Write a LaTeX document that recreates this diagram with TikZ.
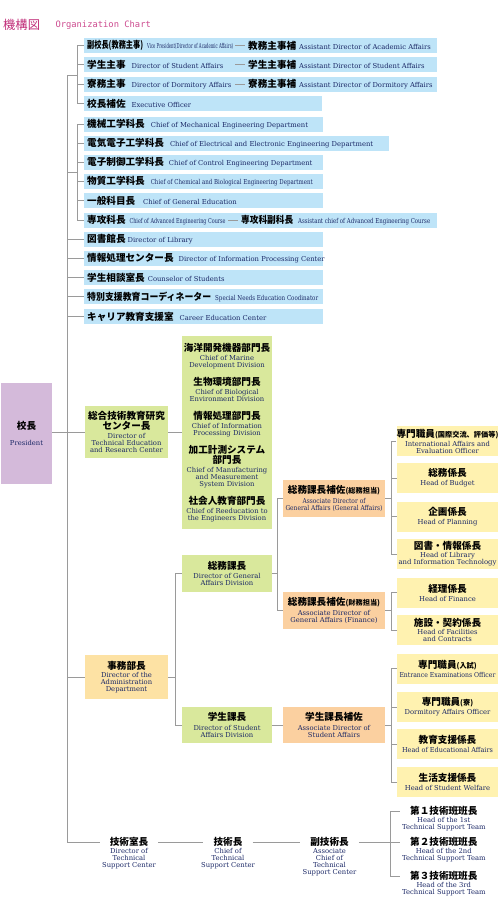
\documentclass[tikz,border=0pt]{standalone}
\usepackage{fontspec}
\usepackage{graphicx}
\setmainfont{DejaVu Serif}
\newfontfamily\jpfont{Noto Sans CJK JP}
\newfontfamily\monofont{DejaVu Sans Mono}
\usetikzlibrary{positioning}

\definecolor{barblue}{HTML}{BEE4F8}
\definecolor{presfill}{HTML}{D4BADA}
\definecolor{grnfill}{HTML}{D9E89C}
\definecolor{admfill}{HTML}{FDE2A4}
\definecolor{salfill}{HTML}{FBD0A0}
\definecolor{ylwfill}{HTML}{FFF2B0}
\definecolor{engtext}{HTML}{1B2866}
\definecolor{linegray}{HTML}{9A9A9A}
\definecolor{titlered}{HTML}{C02C78}
\definecolor{titlepink}{HTML}{CC4A8E}

\newcommand{\J}[1]{{\color{black}\jpfont\bfseries\fontsize{9.6}{11}\selectfont #1}}
\newcommand{\E}[1]{{\color{engtext}\fontsize{6.8}{7}\selectfont #1}}
\newcommand{\Js}[1]{{\fontsize{7.2}{8}\selectfont #1}}
\newcommand{\fitw}[2]{\resizebox{#1}{\height}{#2}}
\lineskiplimit=-20pt

\tikzset{
    link/.style    = {draw=linegray, line width=0.8pt},
    bar/.style     = {rectangle, fill=barblue, anchor=west, minimum height=15pt, inner sep=0pt},
    barlbl/.style  = {anchor=west, inner xsep=3pt, inner ysep=0pt},
    orgbox/.style  = {rectangle, align=center, inner sep=0pt, text=engtext, font=\fontsize{6.8}{7}\selectfont},
    presbox/.style = {orgbox, fill=presfill},
    grnbox/.style  = {orgbox, fill=grnfill},
    admbox/.style  = {orgbox, fill=admfill},
    salbox/.style  = {orgbox, fill=salfill, minimum width=102pt, minimum height=37pt},
    ylwbox/.style  = {orgbox, fill=ylwfill, minimum width=101pt, minimum height=30pt},
    plain/.style   = {align=center, inner xsep=10pt, inner ysep=0pt},
    plaineng/.style = {align=center, inner sep=0pt, text=engtext, font=\fontsize{6.8}{7}\selectfont}
}

\begin{document}
\begin{tikzpicture}[x=1pt, y=-1pt]
    \useasboundingbox (0,0) rectangle (500,916);

    % Title
    \node[anchor=west, inner sep=0pt, text=titlered, font=\jpfont\fontsize{12.3}{14}\selectfont] (ttl) at (3,25) {機構図};
    \node[right=15pt of ttl, inner sep=0pt, text=titlepink, font=\monofont\fontsize{8.8}{10}\selectfont] (ttlE) {Organization Chart};

    % Main trunk
    \coordinate (ttop) at (67,75);
    \coordinate (tbot) at (67,842);
    \draw[link] (ttop) -- (tbot);

    % Staff bars, first group
    \node[bar, minimum width=353pt] (vp) at (84,45.5) {};
    \node[barlbl] (vpL) at (vp.west) {\J{\fitw{56pt}{副校長(教務主事)}}\hspace{4pt}\E{\fitw{86pt}{Vice President(Director of Academic Affairs)}}};
    \node[barlbl] (vpR) at (245,45.5) {\J{教務主事補}\hspace{3pt}\E{Assistant Director of Academic Affairs}};
    \node[bar, minimum width=353pt] (sa) at (84,64.5) {};
    \node[barlbl] (saL) at (sa.west) {\J{学生主事}\hspace{6pt}\E{Director of Student Affairs}};
    \node[barlbl] (saR) at (245,64.5) {\J{学生主事補}\hspace{3pt}\E{Assistant Director of Student Affairs}};
    \node[bar, minimum width=353pt] (da) at (84,84.5) {};
    \node[barlbl] (daL) at (da.west) {\J{寮務主事}\hspace{6pt}\E{Director of Dormitory Affairs}};
    \node[barlbl] (daR) at (245,84.5) {\J{寮務主事補}\hspace{3pt}\E{Assistant Director of Dormitory Affairs}};
    \node[bar, minimum width=238pt] (eo) at (84,103.5) {};
    \node[barlbl] (eoL) at (eo.west) {\J{校長補佐}\hspace{6pt}\E{Executive Officer}};
    \foreach \r in {vpR,saR,daR}
        \draw[link] ([xshift=-10pt]\r.west) -- (\r.west);
    \coordinate (g1) at (77,75);
    \draw[link] (ttop) -- (g1);
    \foreach \b in {vp,sa,da,eo}
        \draw[link] (g1) |- (\b.west);

    % Department bars, second group
    \node[bar, minimum width=239pt] (me) at (84,124) {};
    \node[barlbl] (meL) at (me.west) {\J{機械工学科長}\hspace{6pt}\E{Chief of Mechanical Engineering Department}};
    \node[bar, minimum width=305pt] (ee) at (84,143.5) {};
    \node[barlbl] (eeL) at (ee.west) {\J{電気電子工学科長}\hspace{6pt}\E{Chief of Electrical and Electronic Engineering Department}};
    \node[bar, minimum width=239pt] (ce) at (84,162.5) {};
    \node[barlbl] (ceL) at (ce.west) {\J{電子制御工学科長}\hspace{5pt}\E{Chief of Control Engineering Department}};
    \node[bar, minimum width=239pt] (cb) at (84,181.5) {};
    \node[barlbl] (cbL) at (cb.west) {\J{物質工学科長}\hspace{6pt}\E{\fitw{162pt}{Chief of Chemical and Biological Engineering Department}}};
    \node[bar, minimum width=239pt] (ge) at (84,200.5) {};
    \node[barlbl] (geL) at (ge.west) {\J{一般科目長}\hspace{8pt}\E{Chief of General Education}};
    \node[bar, minimum width=353pt] (ae) at (84,220) {};
    \node[barlbl] (aeL) at (ae.west) {\J{専攻科長}\hspace{4pt}\E{\fitw{96pt}{Chief of Advanced Engineering Course}}};
    \node[barlbl] (aeR) at (238,220) {\J{\fitw{52pt}{専攻科副科長}}\hspace{5pt}\E{\fitw{132pt}{Assistant chief of Advanced Engineering Course}}};
    \draw[link] ([xshift=-10pt]aeR.west) -- (aeR.west);
    \coordinate (g2) at (77,172);
    \draw[link] (g2 -| ttop) -- (g2);
    \foreach \b in {me,ee,ce,cb,ge,ae}
        \draw[link] (g2) |- (\b.west);

    % Centre bars, third group
    \node[bar, minimum width=239pt] (lib) at (84,239.5) {};
    \node[barlbl] (libL) at (lib.west) {\J{図書館長}\hspace{2pt}\E{Director of Library}};
    \node[bar, minimum width=239pt] (ipc) at (84,258.5) {};
    \node[barlbl] (ipcL) at (ipc.west) {\J{情報処理センター長}\hspace{5pt}\E{Director of Information Processing Center}};
    \node[bar, minimum width=239pt] (cos) at (84,277.5) {};
    \node[barlbl] (cosL) at (cos.west) {\J{学生相談室長}\hspace{3pt}\E{Counselor of Students}};
    \node[bar, minimum width=239pt] (snc) at (84,296.5) {};
    \node[barlbl] (sncL) at (snc.west) {\J{\fitw{124pt}{特別支援教育コーディネーター}}\hspace{4pt}\E{\fitw{103pt}{Special Needs Education Coodinator}}};
    \node[bar, minimum width=239pt] (cec) at (84,316.5) {};
    \node[barlbl] (cecL) at (cec.west) {\J{キャリア教育支援室}\hspace{6pt}\E{Career Education Center}};
    \foreach \b in {lib,ipc,cos,snc,cec}
        \draw[link] (\b.west -| ttop) -- (\b.west);

    % President and research centre
    \node[presbox, minimum width=51pt, minimum height=101pt] (pres) at (26.5,433.5) {\J{校長}\\[9pt]President};
    \node[grnbox, minimum width=83pt, minimum height=52pt] (ctr) at (126.5,432) {\J{総合技術教育研究}\\[3pt]\J{センター長}\\[2.2pt]Director of\\Technical Education\\and Research Center};
    \node[grnbox, minimum width=90pt, minimum height=193pt] (div) at (227,432.5) {%
        \J{海洋開発機器部門長}\\[2.2pt]Chief of Marine\\Development Division\\[10.8pt]
        \J{生物環境部門長}\\[2.2pt]Chief of Biological\\Environment Division\\[10.8pt]
        \J{情報処理部門長}\\[2.2pt]Chief of Information\\Processing Division\\[10.8pt]
        \J{加工計測システム}\\[3pt]\J{部門長}\\[2.2pt]Chief of Manufacturing\\and Measurement\\System Division\\[10.8pt]
        \J{社会人教育部門長}\\[2.2pt]Chief of Reeducation to\\the Engineers Division};
    \draw[link] (pres.east |- ctr.west) -- (ctr.west);
    \draw[link] (ctr.east) -- (ctr.east -| div.west);

    % Administration department
    \node[admbox, minimum width=83pt, minimum height=44pt] (adm) at (126.5,677) {\J{事務部長}\\[1.5pt]Director of the\\Administration\\Department};
    \node[grnbox, minimum width=90pt, minimum height=37pt] (gen) at (227,573.5) {\J{総務課長}\\[2.2pt]Director of General\\Affairs Division};
    \node[grnbox, minimum width=90pt, minimum height=36pt] (stu) at (227,725) {\J{学生課長}\\[2.2pt]Director of Student\\Affairs Division};
    \node[salbox] (gaA) at (334,498.5) {\J{総務課長補佐\Js{(総務担当)}}\\[2.2pt]\fitw{63pt}{Associate Director of}\\\fitw{97pt}{General Affairs (General Affairs)}};
    \node[salbox] (gaF) at (334,610.5) {\J{総務課長補佐\Js{(財務担当)}}\\[2.2pt]Associate Director of\\General Affairs (Finance)};
    \node[salbox, minimum height=36pt] (stuA) at (334,725) {\J{学生課長補佐}\\[2.2pt]Associate Director of\\Student Affairs};

    % Sections
    \node[ylwbox] (intl) at (447.5,441) {\J{専門職員\Js{(国際交流、評価等)}}\\[2pt]International Affairs and\\Evaluation Officer};
    \node[ylwbox] (bdg) at (447.5,478) {\J{総務係長}\\[2pt]Head of Budget};
    \node[ylwbox] (pln) at (447.5,516.5) {\J{企画係長}\\[2pt]Head of Planning};
    \node[ylwbox] (lit) at (447.5,554) {\J{図書・情報係長}\\[1pt]Head of Library\\\fitw{98pt}{and Information Technology}};
    \node[ylwbox] (fin) at (447.5,592.5) {\J{経理係長}\\[2pt]Head of Finance};
    \node[ylwbox] (fac) at (447.5,630) {\J{施設・契約係長}\\[1pt]Head of Facilities\\and Contracts};
    \node[ylwbox] (ent) at (447.5,668.5) {\J{専門職員\Js{(入試)}}\\[2pt]\fitw{96pt}{Entrance Examinations Officer}};
    \node[ylwbox] (dorm) at (447.5,707) {\J{専門職員\Js{(寮)}}\\[2pt]Dormitory Affairs Officer};
    \node[ylwbox] (edu) at (447.5,744) {\J{教育支援係長}\\[2pt]\fitw{91pt}{Head of Educational Affairs}};
    \node[ylwbox] (wel) at (447.5,782) {\J{生活支援係長}\\[2pt]Head of Student Welfare};

    \draw[link] (adm.west -| ttop) -- (adm.west);
    \coordinate (ab) at (175,677);
    \draw[link] (adm.east) -- (ab);
    \foreach \b in {gen,stu}
        \draw[link] (ab) |- (\b.west);
    \coordinate (gb) at (277,573.5);
    \draw[link] (gen.east) -- (gb);
    \foreach \b in {gaA,gaF}
        \draw[link] (gb) |- (\b.west);
    \coordinate (gab) at (391,498.5);
    \draw[link] (gaA.east) -- (gab);
    \foreach \b in {intl,bdg,pln,lit}
        \draw[link] (gab) |- (\b.west);
    \coordinate (gfb) at (391,610.5);
    \draw[link] (gaF.east) -- (gfb);
    \foreach \b in {fin,fac}
        \draw[link] (gfb) |- (\b.west);
    \draw[link] (stu.east) -- (stuA.west);
    \coordinate (sab) at (391,725);
    \draw[link] (stuA.east) -- (sab);
    \foreach \b in {ent,dorm,edu,wel}
        \draw[link] (sab) |- (\b.west);

    % Technical support center
    \node[plain] (tsc) at (129,842) {\J{技術室長}};
    \node[plaineng, below=1.5pt of tsc] (tscE) {Director of\\Technical\\Support Center};
    \node[plain] (tch) at (228,842) {\J{技術長}};
    \node[plaineng, below=1.5pt of tch] (tchE) {Chief of\\Technical\\Support Center};
    \node[plain] (atc) at (329.5,842) {\J{副技術長}};
    \node[plaineng, below=1.5pt of atc] (atcE) {Associate\\Chief of\\Technical\\Support Center};
    \node[plain, anchor=west] (tm1) at (400,811) {\J{第１技術班班長}};
    \node[plaineng, below=1.5pt of tm1] (tm1E) {Head of the 1st\\Technical Support Team};
    \node[plain, anchor=west] (tm2) at (400,842) {\J{第２技術班班長}};
    \node[plaineng, below=1.5pt of tm2] (tm2E) {Head of the 2nd\\Technical Support Team};
    \node[plain, anchor=west] (tm3) at (400,876) {\J{第３技術班班長}};
    \node[plaineng, below=1.5pt of tm3] (tm3E) {Head of the 3rd\\Technical Support Team};

    \draw[link] (tbot) -- (tsc);
    \draw[link] (tsc) -- (tch);
    \draw[link] (tch) -- (atc);
    \coordinate (tb) at (390,842);
    \draw[link] (atc) -- (tb);
    \foreach \t in {tm1,tm2,tm3}
        \draw[link] (tb) |- (\t.west);

\end{tikzpicture}
\end{document}
